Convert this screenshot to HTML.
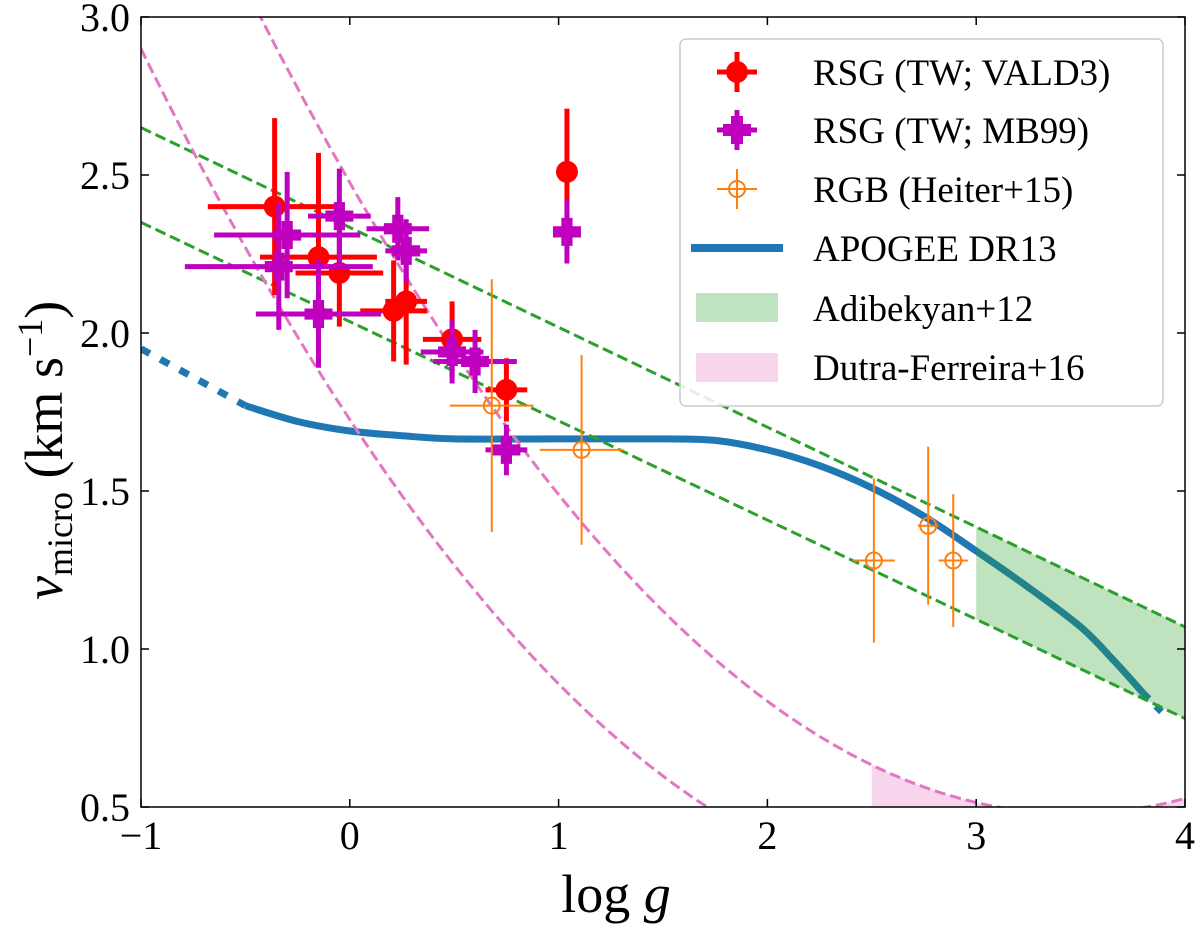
<!DOCTYPE html>
<html><head><meta charset="utf-8"><style>
html,body{margin:0;padding:0;background:#fff;}
svg,text{font-family:"Liberation Serif","Times New Roman",serif;}
</style></head><body>
<svg id="chart" width="1200" height="924" viewBox="0 0 1200 924" xmlns="http://www.w3.org/2000/svg">
<defs><clipPath id="clip"><rect x="141" y="17" width="1044" height="790"/></clipPath></defs>
<g id="plot" clip-path="url(#clip)"></g>
<g id="axes"></g>
<g id="legend"></g>
</svg>
<script>
// ---- data ----
const xTicks = [-1, 0, 1, 2, 3, 4];
const xTickLabels = ["\u22121", "0", "1", "2", "3", "4"];
const yTicks = [0.5, 1.0, 1.5, 2.0, 2.5, 3.0];
const yTickLabels = ["0.5", "1.0", "1.5", "2.0", "2.5", "3.0"];

const redX    = [-0.36, -0.15, -0.05, 0.21, 0.27, 0.49, 0.75, 1.04];
const redY    = [2.40, 2.24, 2.19, 2.07, 2.10, 1.98, 1.82, 2.51];
const redXerr = [0.32, 0.28, 0.21, 0.16, 0.10, 0.14, 0.10, 0.05];
const redYerr = [0.28, 0.33, 0.17, 0.16, 0.20, 0.12, 0.10, 0.20];

const magX    = [-0.34, -0.30, -0.15, -0.05, 0.23, 0.27, 0.49, 0.60, 0.75, 1.04];
const magY    = [2.21, 2.31, 2.06, 2.37, 2.33, 2.26, 1.94, 1.91, 1.63, 2.32];
const magXerr = [0.45, 0.35, 0.30, 0.15, 0.15, 0.10, 0.15, 0.20, 0.10, 0.05];
const magYerr = [0.20, 0.20, 0.17, 0.15, 0.10, 0.10, 0.10, 0.10, 0.08, 0.10];

const orgX    = [0.68, 1.11, 2.51, 2.77, 2.89];
const orgY    = [1.77, 1.63, 1.28, 1.39, 1.28];
const orgXerr = [0.20, 0.20, 0.10, 0.05, 0.07];
const orgYerr = [0.40, 0.30, 0.26, 0.25, 0.21];

const apoX = [-1.0, -0.75, -0.5, -0.25, 0.0, 0.25, 0.5, 1.0, 1.5, 1.75, 2.0, 2.25, 2.5, 2.75, 3.0, 3.25, 3.5, 3.65, 3.8, 3.92];
const apoY = [1.95, 1.86, 1.77, 1.72, 1.69, 1.675, 1.665, 1.665, 1.665, 1.66, 1.63, 1.58, 1.51, 1.42, 1.31, 1.195, 1.07, 0.97, 0.86, 0.78];

const greenUpper = [2.65, 1.07];
const greenLower = [2.35, 0.78];
const pinkLeftCoef  = [0.1687, -1.005, 1.726];
const pinkRightCoef = [0.1667, -1.154, 2.476];

// ---- scales ----
const X0 = 141, X1 = 1185, Y0 = 807, Y1 = 17;
const sx = v => X0 + (v + 1) / 5 * (X1 - X0);
const sy = v => Y0 - (v - 0.5) / 2.5 * (Y0 - Y1);
const NS = "http://www.w3.org/2000/svg";
function mk(tag, attrs, parent) {
  const e = document.createElementNS(NS, tag);
  for (const k in attrs) e.setAttribute(k, attrs[k]);
  parent.appendChild(e);
  return e;
}
const plot = document.getElementById('plot');
const axes = document.getElementById('axes');

function polyPath(xs, ys) { return xs.map((x, i) => (i ? 'L' : 'M') + sx(x).toFixed(1) + ' ' + sy(ys[i]).toFixed(1)).join(' '); }
function smoothPath(xs, ys) {
  const P = xs.map((x, i) => [sx(x), sy(ys[i])]);
  let d = 'M' + P[0][0].toFixed(1) + ' ' + P[0][1].toFixed(1);
  for (let i = 0; i < P.length - 1; i++) {
    const p0 = P[Math.max(0, i - 1)], p1 = P[i], p2 = P[i + 1], p3 = P[Math.min(P.length - 1, i + 2)];
    const c1 = [p1[0] + (p2[0] - p0[0]) / 6, p1[1] + (p2[1] - p0[1]) / 6];
    const c2 = [p2[0] - (p3[0] - p1[0]) / 6, p2[1] - (p3[1] - p1[1]) / 6];
    d += ` C${c1[0].toFixed(1)} ${c1[1].toFixed(1)} ${c2[0].toFixed(1)} ${c2[1].toFixed(1)} ${p2[0].toFixed(1)} ${p2[1].toFixed(1)}`;
  }
  return d;
}
function quad(c, x) { return c[0] * x * x + c[1] * x + c[2]; }
function sample(c, a, b) { const xs = [], ys = []; for (let i = 0; i <= 200; i++) { const x = a + (b - a) * i / 200; xs.push(x); ys.push(quad(c, x)); } return [xs, ys]; }

let p;
const inS = x => x >= -0.5 && x <= 3.8;
const solidX = apoX.filter(inS), solidY = apoY.filter((y, i) => inS(apoX[i]));
const dotLX = apoX.filter(x => x <= -0.5), dotLY = apoY.filter((y, i) => apoX[i] <= -0.5);
const dotRX = apoX.filter(x => x >= 3.8), dotRY = apoY.filter((y, i) => apoX[i] >= 3.8);
p = mk('path', {d: smoothPath(solidX, solidY), fill: 'none', stroke: '#1f77b4', 'stroke-width': 7, 'stroke-linejoin': 'round'}, plot);


p = mk('path', {d: smoothPath(dotLX, dotLY), fill: 'none', stroke: '#1f77b4', 'stroke-width': 7, 'stroke-dasharray': '10 12'}, plot);


p = mk('path', {d: polyPath(dotRX, dotRY), fill: 'none', stroke: '#1f77b4', 'stroke-width': 7, 'stroke-dasharray': '8 10'}, plot);



const gu = x => greenUpper[0] + (greenUpper[1] - greenUpper[0]) * (x + 1) / 5;
const gl = x => greenLower[0] + (greenLower[1] - greenLower[0]) * (x + 1) / 5;
p = mk('polygon', {points: [[3, gu(3)], [4, gu(4)], [4, gl(4)], [3, gl(3)]].map(q => sx(q[0]) + ',' + sy(q[1])).join(' '), fill: '#2ca02c', 'fill-opacity': 0.3}, plot);


{ const [xs, ys] = sample(pinkRightCoef, 2.5, 4); let d = 'M' + sx(2.5) + ' ' + sy(0.5) + ' ' + xs.map((x, i) => 'L' + sx(x).toFixed(1) + ' ' + sy(ys[i]).toFixed(1)).join(' ') + ' L' + sx(4) + ' ' + sy(0.5) + 'Z';
  p = mk('path', {d: d, fill: '#e377c2', 'fill-opacity': 0.3}, plot);
  
   }

p = mk('line', {x1: sx(-1), y1: sy(greenUpper[0]), x2: sx(4), y2: sy(greenUpper[1]), stroke: '#2ca02c', 'stroke-width': 3, 'stroke-dasharray': '11 5'}, plot);


p = mk('line', {x1: sx(-1), y1: sy(greenLower[0]), x2: sx(4), y2: sy(greenLower[1]), stroke: '#2ca02c', 'stroke-width': 3, 'stroke-dasharray': '11 5'}, plot);


{ let [xs, ys] = sample(pinkLeftCoef, -1, 4);
  p = mk('path', {d: polyPath(xs, ys), fill: 'none', stroke: '#e377c2', 'stroke-width': 3, 'stroke-dasharray': '11 5'}, plot);
  
  
  [xs, ys] = sample(pinkRightCoef, -1, 4);
  p = mk('path', {d: polyPath(xs, ys), fill: 'none', stroke: '#e377c2', 'stroke-width': 3, 'stroke-dasharray': '11 5'}, plot);
  
   }

function errbar(x, y, xe, ye, color, w, name) {
  const g = mk('g', {}, plot);
  
  
  mk('line', {x1: sx(x - xe), x2: sx(x + xe), y1: sy(y), y2: sy(y), stroke: color, 'stroke-width': w}, g);
  mk('line', {x1: sx(x), x2: sx(x), y1: sy(y - ye), y2: sy(y + ye), stroke: color, 'stroke-width': w}, g);
  return g;
}
function plusMarker(cx, cy, s, color, parent) {
  const a = s / 2, b = s / 5;
  mk('path', {d: `M${cx - b} ${cy - a}h${2 * b}v${a - b}h${a - b}v${2 * b}h${b - a}v${a - b}h${-2 * b}v${b - a}h${b - a}v${-2 * b}h${a - b}Z`, fill: color}, parent);
}
redX.forEach((x, i) => { const g = errbar(x, redY[i], redXerr[i], redYerr[i], '#ff0000', 5, 'rsg-vald3-point');
  mk('circle', {cx: sx(x), cy: sy(redY[i]), r: 11, fill: '#ff0000'}, g); });
magX.forEach((x, i) => { const g = errbar(x, magY[i], magXerr[i], magYerr[i], '#bf00bf', 5, 'rsg-mb99-point');
  plusMarker(sx(x), sy(magY[i]), 28, '#bf00bf', g); });
orgX.forEach((x, i) => { const g = errbar(x, orgY[i], orgXerr[i], orgYerr[i], '#ff7f0e', 2, 'rgb-heiter-point');
  mk('circle', {cx: sx(x), cy: sy(orgY[i]), r: 8, fill: 'none', stroke: '#ff7f0e', 'stroke-width': 2}, g); });

mk('rect', {x: X0, y: Y1, width: X1 - X0, height: Y0 - Y1, fill: 'none', stroke: '#000', 'stroke-width': 1.5}, axes);
xTicks.forEach((t, i) => {
  mk('line', {x1: sx(t), x2: sx(t), y1: Y0, y2: Y0 - 8, stroke: '#000', 'stroke-width': 1.5}, axes);
  mk('line', {x1: sx(t), x2: sx(t), y1: Y1, y2: Y1 + 8, stroke: '#000', 'stroke-width': 1.5}, axes);
  const tx = mk('text', {x: sx(t), y: 849, 'font-size': 40, 'text-anchor': 'middle'}, axes);
  tx.textContent = xTickLabels[i];
  
  
});
yTicks.forEach((t, i) => {
  mk('line', {x1: X0, x2: X0 + 8, y1: sy(t), y2: sy(t), stroke: '#000', 'stroke-width': 1.5}, axes);
  mk('line', {x1: X1, x2: X1 - 8, y1: sy(t), y2: sy(t), stroke: '#000', 'stroke-width': 1.5}, axes);
  const tx = mk('text', {x: 130, y: sy(t) + 14, 'font-size': 40, 'text-anchor': 'end'}, axes);
  tx.textContent = yTickLabels[i];
  
  
});
</script>
<svg style="position:absolute;left:0;top:0" width="1200" height="924">
  <text x="616" y="912" font-size="54" text-anchor="middle">log <tspan font-style="italic">g</tspan></text>
  <text transform="translate(62,600) rotate(-90)" font-size="54" text-anchor="start"><tspan font-style="italic">v</tspan><tspan font-size="36" dy="10">micro</tspan><tspan dy="-10">  (km s</tspan><tspan font-size="36" dy="-20">−1</tspan><tspan dy="20">)</tspan></text>
  <g font-size="37">
    <rect x="680" y="39" width="483" height="367" rx="6" fill="#fff" fill-opacity="0.85" stroke="#ccc" stroke-width="1.5"/>
    <g>
      <line x1="717" x2="757" y1="72" y2="72" stroke="#ff0000" stroke-width="5"/><line x1="737" x2="737" y1="52" y2="92" stroke="#ff0000" stroke-width="5"/><circle cx="737" cy="72" r="11" fill="#ff0000"/>
      <text x="813" y="85">RSG (TW; VALD3)</text></g>
    <g>
      <line x1="717" x2="757" y1="130" y2="130" stroke="#bf00bf" stroke-width="5"/><line x1="737" x2="737" y1="110" y2="150" stroke="#bf00bf" stroke-width="5"/><path d="M731 116h12v8h8v12h-8v8h-12v-8h-8v-12h8Z" fill="#bf00bf"/>
      <text x="813" y="143">RSG (TW; MB99)</text></g>
    <g>
      <line x1="717" x2="757" y1="189" y2="189" stroke="#ff7f0e" stroke-width="2"/><line x1="737" x2="737" y1="169" y2="209" stroke="#ff7f0e" stroke-width="2"/><circle cx="737" cy="189" r="8" fill="none" stroke="#ff7f0e" stroke-width="2"/>
      <text x="813" y="202">RGB (Heiter+15)</text></g>
    <g>
      <line x1="691" x2="783" y1="248" y2="248" stroke="#1f77b4" stroke-width="8"/>
      <text x="813" y="261">APOGEE DR13</text></g>
    <g>
      <rect x="696" y="293" width="82" height="29" fill="#2ca02c" fill-opacity="0.3"/>
      <text x="813" y="321">Adibekyan+12</text></g>
    <g>
      <rect x="696" y="353" width="82" height="29" fill="#e377c2" fill-opacity="0.3"/>
      <text x="813" y="380">Dutra-Ferreira+16</text></g>
  </g>
</svg>
</body></html>
